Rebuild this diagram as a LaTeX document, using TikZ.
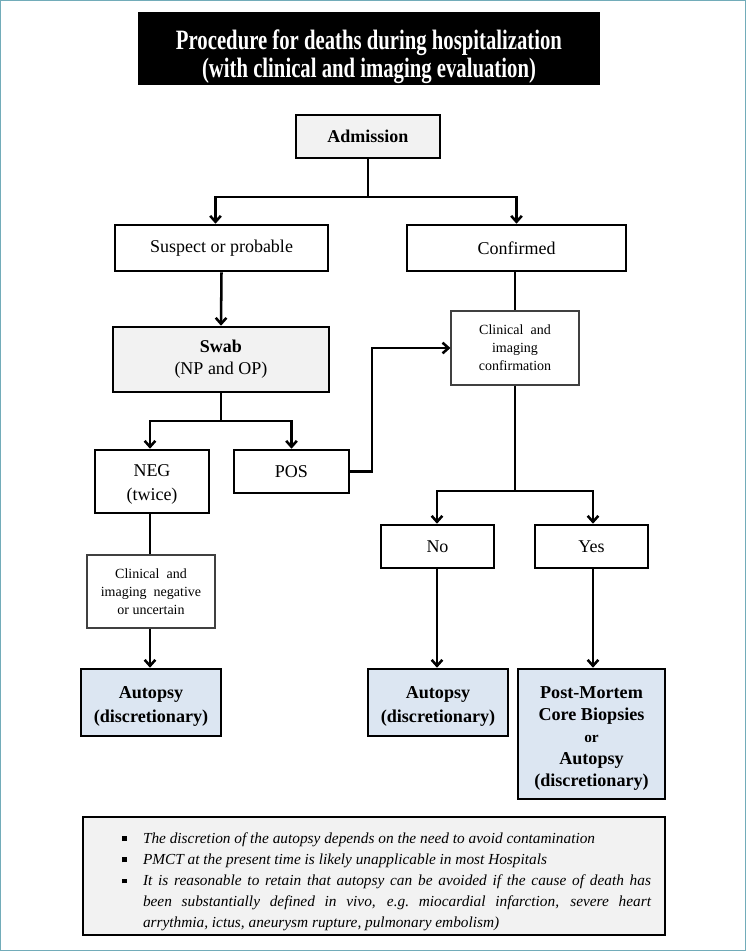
\documentclass[tikz,border=0pt]{standalone}
\usepackage{fontspec}
\setmainfont{Liberation Serif}
\newfontfamily\titlefont{Liberation Serif}[FakeStretch=0.74]
\usetikzlibrary{arrows.meta,calc}
\definecolor{framec}{HTML}{72ACB9}
\definecolor{boxgray}{HTML}{F2F2F2}
\definecolor{boxblue}{HTML}{DCE6F2}
\newcommand{\sqbul}{\rule[1.5pt]{3.6pt}{3.6pt}}
\begin{document}
\begin{tikzpicture}[x=0.75pt,y=-0.75pt,
  basebox/.style={draw=black, line width=1.9pt, inner sep=0pt, align=center, font=\fontsize{13.5}{18}\selectfont},
  whitebox/.style={basebox, fill=white},
  graybox/.style={basebox, fill=boxgray},
  bluebox/.style={basebox, fill=boxblue, font=\fontsize{13.6}{18}\selectfont\bfseries},
  thinbox/.style={draw=black!75, line width=0.8pt, fill=white, inner sep=0pt, align=center, font=\fontsize{10.5}{13.5}\selectfont},
  conn/.style={line width=1.9pt},
  arr/.style={conn, -{Straight Barb[length=4.5pt,width=8pt]}}
]
\useasboundingbox (0,0) rectangle (746,951);
\draw[framec, line width=1pt] (0.7,0.7) rectangle (745.3,950.3);

% title
\node[fill=black, minimum width=346.5pt, minimum height=54.75pt, inner sep=0pt] (title) at (369,48.5) {};
\node[align=center, inner sep=0pt, text=white, font=\titlefont\bfseries\fontsize{21}{21}\selectfont] (titletext) at (369,56.5)
  {Procedure for deaths during hospitalization\\(with clinical and imaging evaluation)};

% nodes
\node[graybox, minimum width=108pt, minimum height=32.25pt, font=\fontsize{13.5}{18}\selectfont\bfseries] (adm) at (368,136.5) {Admission};
\node[whitebox, minimum width=159.75pt, minimum height=34.5pt] (susp) at (221.5,248) {Suspect or probable};
\node[whitebox, minimum width=164.25pt, minimum height=34.5pt] (conf) at (516.5,248) {Confirmed};
\node[graybox, minimum width=162pt, minimum height=48.75pt, font=\fontsize{13.5}{16.5}\selectfont] (swab) at (221,359.5) {\textbf{Swab}\\(NP and OP)};
\node[whitebox, minimum width=85.5pt, minimum height=47.25pt] (neg) at (152,481.5) {\rule{0pt}{13pt}NEG\\(twice)};
\node[whitebox, minimum width=86.25pt, minimum height=32.25pt] (pos) at (291.5,471.5) {POS};
\node[thinbox, minimum width=96pt, minimum height=55.5pt] (clinc) at (515,348) {Clinical\ \ and\\imaging\\confirmation};
\node[whitebox, minimum width=84.75pt, minimum height=32.25pt] (no) at (437.5,546.5) {No};
\node[whitebox, minimum width=84.75pt, minimum height=32.25pt] (yes) at (591.5,546.5) {Yes};
\node[thinbox, minimum width=96pt, minimum height=54.75pt] (clinn) at (151,591.5) {Clinical\ \ and\\imaging\ \ negative\\or uncertain};
\node[bluebox, minimum width=105pt, minimum height=50.25pt] (aut1) at (151,702.5) {\rule{0pt}{15pt}Autopsy\\(discretionary)};
\node[bluebox, minimum width=105pt, minimum height=50.25pt] (aut2) at (438,702.5) {\rule{0pt}{15pt}Autopsy\\(discretionary)};
\node[bluebox, minimum width=110.25pt, minimum height=97.5pt, font=\fontsize{13.6}{16.5}\selectfont\bfseries] (pm) at (591.5,734)
  {\rule{0pt}{16pt}Post-Mortem\\Core Biopsies\\{\fontsize{11.5}{16.5}\selectfont or}\\Autopsy\\(discretionary)};

% note
\node[draw=black, line width=1.9pt, fill=boxgray, minimum width=436.5pt, minimum height=88.5pt, inner sep=0pt] (note) at (374,876) {};
\node[text width=399pt, inner sep=0pt, align=justify, font=\fontsize{11.5}{15.9}\selectfont\itshape] (notetext) at (385,876.5) {%
\begin{list}{\sqbul}{\setlength\leftmargin{18pt}\setlength\labelwidth{6pt}\setlength\labelsep{12pt}%
  \setlength\itemsep{0pt}\setlength\parsep{0pt}\setlength\topsep{0pt}\setlength\partopsep{0pt}}
\item The discretion of the autopsy depends on the need to avoid contamination
\item PMCT at the present time is likely unapplicable in most Hospitals
\item It is reasonable to retain that autopsy can be avoided if the cause of death has\linebreak been substantially defined in vivo, e.g.\ miocardial infarction, severe heart\linebreak arrythmia, ictus, aneurysm rupture, pulmonary embolism)
\end{list}};

% connectors
\coordinate (j1) at (368,197);
\draw[conn] (adm.south) -- (j1);
\draw[arr] (j1) -| ($(susp.north)+(-6,0)$);
\draw[arr] (j1) -| (conf.north);
\draw[arr] (susp.south) -- (swab.north);
\coordinate (j2) at (221,421);
\draw[conn] (swab.south) -- (j2);
\draw[arr] (j2) -| ($(neg.north)+(-2,0)$);
\draw[arr] (j2) -| (pos.north);
\coordinate (p1) at (372,471.5);
\draw[arr] (pos.east) -- (p1) |- (clinc.west);
\draw[conn] ($(conf.south)+(-1.5,0)$) -- (clinc.north);
\coordinate (j3) at (515,491);
\draw[conn] (clinc.south) -- (j3);
\draw[arr] (j3) -| ($(no.north)+(-0.5,0)$);
\draw[arr] (j3) -| ($(yes.north)+(1.5,0)$);
\draw[conn] ($(neg.south)+(-2,0)$) -- (clinn.north -| 150,0);
\draw[arr] ($(clinn.south)+(-1,0)$) -- ($(aut1.north)+(-1,0)$);
\draw[arr] ($(no.south)+(-0.5,0)$) -- ($(aut2.north)+(-1,0)$);
\draw[arr] ($(yes.south)+(1.5,0)$) -- ($(pm.north)+(1.5,0)$);
\end{tikzpicture}
\end{document}
